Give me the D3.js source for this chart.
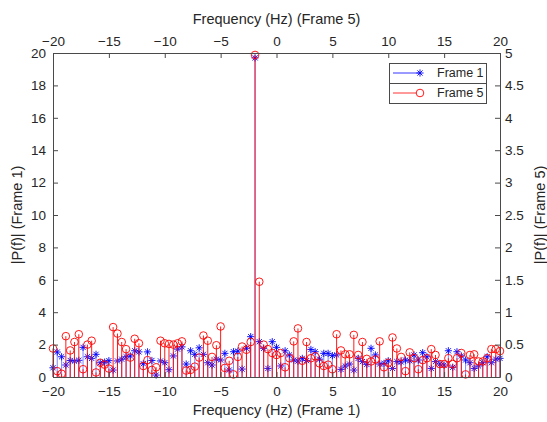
<!DOCTYPE html>
<html>
<head>
<meta charset="utf-8">
<script src="https://cdn.jsdelivr.net/npm/d3@7"></script>
<style>
    body { margin: 0; background: #fff; }
    text { font-family: Arial, "Liberation Sans", sans-serif; fill: #262626; }
</style>
</head>
<body>
<div class="chart"></div>
<script>
const width = 547;
const height = 422;
const margin = {top: 53, right: 47, bottom: 45, left: 53};

// frequency bins shared by both frames
const freq = [
    -20, -19.62, -19.23, -18.85, -18.46, -18.08, -17.69, -17.31, -16.92, -16.54, -16.15, -15.77, -15.38,
    -15, -14.62, -14.23, -13.85, -13.46, -13.08, -12.69, -12.31, -11.92, -11.54, -11.15, -10.77, -10.38,
    -10, -9.62, -9.23, -8.85, -8.46, -8.08, -7.69, -7.31, -6.92, -6.54, -6.15, -5.77, -5.38,
    -5, -4.62, -4.23, -3.85, -3.46, -3.08, -2.69, -2.31, -1.92, -1.54, -1.15, -0.77, -0.38,
    0, 0.38, 0.77, 1.15, 1.54, 1.92, 2.31, 2.69, 3.08, 3.46, 3.85, 4.23, 4.62,
    5, 5.38, 5.77, 6.15, 6.54, 6.92, 7.31, 7.69, 8.08, 8.46, 8.85, 9.23, 9.62,
    10, 10.38, 10.77, 11.15, 11.54, 11.92, 12.31, 12.69, 13.08, 13.46, 13.85, 14.23, 14.62,
    15, 15.38, 15.77, 16.15, 16.54, 16.92, 17.31, 17.69, 18.08, 18.46, 18.85, 19.23, 19.62,
    20
];

// |P(f)| of frame 1 (left axis)
const frame1 = [
    0.57, 1.54, 1.25, 0.74, 1.02, 0.98, 1.03, 1.83, 1.25, 1.15, 1.40, 0.88, 0.92,
    1.01, 0.43, 0.99, 1.10, 1.25, 1.30, 1.62, 1.55, 0.82, 1.55, 1.02, 0.12, 0.99,
    0.88, 0.45, 1.30, 1.72, 1.86, 0.80, 1.62, 1.40, 1.80, 1.40, 0.88, 0.74, 1.10,
    1.05, 1.46, 0.43, 1.56, 1.60, 0.49, 1.77, 2.49, 19.70, 2.18, 1.77, 0.53, 2.18,
    1.83, 0.68, 1.62, 1.36, 1.05, 0.98, 1.15, 1.01, 1.70, 1.56, 1.10, 1.46, 1.46,
    1.32, 1.36, 0.47, 0.68, 0.80, 0.43, 1.15, 0.95, 0.78, 1.77, 1.36, 0.80, 0.84,
    1.00, 0.53, 0.95, 0.93, 1.05, 1.00, 1.36, 1.05, 1.50, 1.25, 0.53, 0.95, 0.80,
    0.74, 1.62, 0.60, 1.56, 1.30, 1.05, 0.88, 0.53, 0.68, 0.88, 1.25, 0.88, 1.10,
    1.15
];

// |P(f)| of frame 5 (right axis)
const frame5 = [
    0.44, 0.09, 0.05, 0.63, 0.41, 0.54, 0.66, 0.12, 0.50, 0.56, 0.07, 0.22, 0.19,
    0.13, 0.77, 0.67, 0.54, 0.43, 0.30, 0.59, 0.52, 0.17, 0.26, 0.11, 0.15, 0.56,
    0.52, 0.51, 0.50, 0.52, 0.55, 0.10, 0.11, 0.16, 0.30, 0.64, 0.56, 0.31, 0.49,
    0.78, 0.14, 0.25, 0.04, 0.31, 0.47, 0.42, 0.54, 4.97, 1.47, 0.50, 0.43, 0.37,
    0.34, 0.37, 0.15, 0.29, 0.55, 0.75, 0.25, 0.54, 0.29, 0.32, 0.21, 0.17, 0.19,
    0.12, 0.66, 0.41, 0.35, 0.35, 0.65, 0.34, 0.54, 0.28, 0.24, 0.27, 0.55, 0.15,
    0.22, 0.61, 0.44, 0.31, 0.09, 0.38, 0.29, 0.12, 0.26, 0.29, 0.43, 0.34, 0.20,
    0.20, 0.29, 0.20, 0.29, 0.37, 0.04, 0.34, 0.35, 0.24, 0.24, 0.29, 0.43, 0.43,
    0.40
];

const xTicks = [-20, -15, -10, -5, 0, 5, 10, 15, 20];
const leftTicks = [0, 2, 4, 6, 8, 10, 12, 14, 16, 18, 20];
const rightTicks = [0, 0.5, 1, 1.5, 2, 2.5, 3, 3.5, 4, 4.5, 5];
const seriesNames = ["Frame 1", "Frame 5"];
const seriesColors = ["#0000ff", "#ff0000"];

const axisColor = "#4a4a4a";
const tickFont = 13.5;
const labelFont = 14.5;

const svg = d3.select(".chart")
    .append("svg")
        .attr("width", width)
        .attr("height", height);

const x = d3.scaleLinear()
    .domain([-20, 20])
    .range([margin.left, width - margin.right]);

const yLeft = d3.scaleLinear()
    .domain([0, 20])
    .range([height - margin.bottom, margin.top]);

const yRight = d3.scaleLinear()
    .domain([0, 5])
    .range([height - margin.bottom, margin.top]);

const data1 = freq.map((f, i) => ({f: f, v: frame1[i]}));
const data5 = freq.map((f, i) => ({f: f, v: frame5[i]}));

// matlab style asterisk
function star(r) {
    const d = r * 0.72;
    return `M${-r},0L${r},0M0,${-r}L0,${r}M${-d},${-d}L${d},${d}M${-d},${d}L${d},${-d}`;
}

// frame 1 stems + markers
const g1 = svg.append("g");
g1.selectAll("line")
    .data(data1)
    .join("line")
        .attr("x1", d => x(d.f))
        .attr("x2", d => x(d.f))
        .attr("y1", yLeft(0))
        .attr("y2", d => yLeft(d.v))
        .attr("stroke", seriesColors[0])
        .attr("stroke-width", 0.5);
g1.selectAll("path")
    .data(data1)
    .join("path")
        .attr("transform", d => `translate(${x(d.f)},${yLeft(d.v)})`)
        .attr("d", star(3.6))
        .attr("fill", "none")
        .attr("stroke", seriesColors[0])
        .attr("stroke-width", 0.9);

// frame 5 stems + markers (second axes, drawn on top)
const g5 = svg.append("g");
g5.selectAll("line")
    .data(data5)
    .join("line")
        .attr("x1", d => x(d.f))
        .attr("x2", d => x(d.f))
        .attr("y1", yRight(0))
        .attr("y2", d => yRight(d.v))
        .attr("stroke", seriesColors[1])
        .attr("stroke-width", 0.9);
g5.selectAll("circle")
    .data(data5)
    .join("circle")
        .attr("cx", d => x(d.f))
        .attr("cy", d => yRight(d.v))
        .attr("r", 3.8)
        .attr("fill", "none")
        .attr("stroke", seriesColors[1])
        .attr("stroke-width", 0.9);

// axes
function styleAxis(g) {
    g.select(".domain").attr("stroke", axisColor);
    g.selectAll(".tick line").attr("stroke", axisColor);
    g.selectAll(".tick text")
        .attr("font-size", tickFont)
        .attr("fill", "#262626")
        .attr("font-family", "Arial, 'Liberation Sans', sans-serif");
}

svg.append("g")
    .attr("transform", `translate(0,${height - margin.bottom})`)
    .call(d3.axisBottom(x).tickValues(xTicks).tickSizeInner(-5).tickSizeOuter(0).tickPadding(9))
    .call(styleAxis);

svg.append("g")
    .attr("transform", `translate(0,${margin.top})`)
    .call(d3.axisTop(x).tickValues(xTicks).tickSizeInner(-5).tickSizeOuter(0).tickPadding(7))
    .call(styleAxis);

svg.append("g")
    .attr("transform", `translate(${margin.left},0)`)
    .call(d3.axisLeft(yLeft).tickValues(leftTicks).tickSizeInner(-5).tickSizeOuter(0).tickPadding(7))
    .call(styleAxis);

svg.append("g")
    .attr("transform", `translate(${width - margin.right},0)`)
    .call(d3.axisRight(yRight).tickValues(rightTicks).tickFormat(d3.format("")).tickSizeInner(-5).tickSizeOuter(0).tickPadding(5))
    .call(styleAxis);

// axis labels
const midX = (margin.left + width - margin.right) / 2;
const midY = (margin.top + height - margin.bottom) / 2;

svg.append("text")
    .attr("x", midX)
    .attr("y", 415)
    .attr("text-anchor", "middle")
    .attr("font-size", labelFont)
    .text("Frequency (Hz) (Frame 1)");

svg.append("text")
    .attr("x", midX)
    .attr("y", 24)
    .attr("text-anchor", "middle")
    .attr("font-size", labelFont)
    .text("Frequency (Hz) (Frame 5)");

svg.append("text")
    .attr("transform", `translate(22,${midY}) rotate(-90)`)
    .attr("text-anchor", "middle")
    .attr("font-size", labelFont)
    .text("|P(f)| (Frame 1)");

svg.append("text")
    .attr("transform", `translate(545,${midY}) rotate(-90)`)
    .attr("text-anchor", "middle")
    .attr("font-size", labelFont)
    .text("|P(f)| (Frame 5)");

// legends (one per axes, stacked)
const legX = 389, legW = 97, legH = 20;
seriesNames.forEach((name, i) => {
    const top = 63 + i * legH;
    const lg = svg.append("g");
    lg.append("rect")
        .attr("x", legX + 0.5)
        .attr("y", top + 0.5)
        .attr("width", legW)
        .attr("height", legH)
        .attr("fill", "#fff")
        .attr("stroke", axisColor)
        .attr("stroke-width", 1);
    const cy = top + legH / 2;
    lg.append("line")
        .attr("x1", legX + 4)
        .attr("x2", legX + 31)
        .attr("y1", cy)
        .attr("y2", cy)
        .attr("stroke", seriesColors[i])
        .attr("stroke-width", 0.8);
    if (i === 0) {
        lg.append("path")
            .attr("transform", `translate(${legX + 31},${cy})`)
            .attr("d", star(3.6))
            .attr("fill", "none")
            .attr("stroke", seriesColors[i])
            .attr("stroke-width", 0.9);
    } else {
        lg.append("circle")
            .attr("cx", legX + 31)
            .attr("cy", cy)
            .attr("r", 3.8)
            .attr("fill", "#fff")
            .attr("stroke", seriesColors[i])
            .attr("stroke-width", 0.9);
    }
    lg.append("text")
        .attr("x", legX + 48)
        .attr("y", cy)
        .attr("dy", "0.35em")
        .attr("font-size", 12.5)
        .text(name);
});
</script>
</body>
</html>
